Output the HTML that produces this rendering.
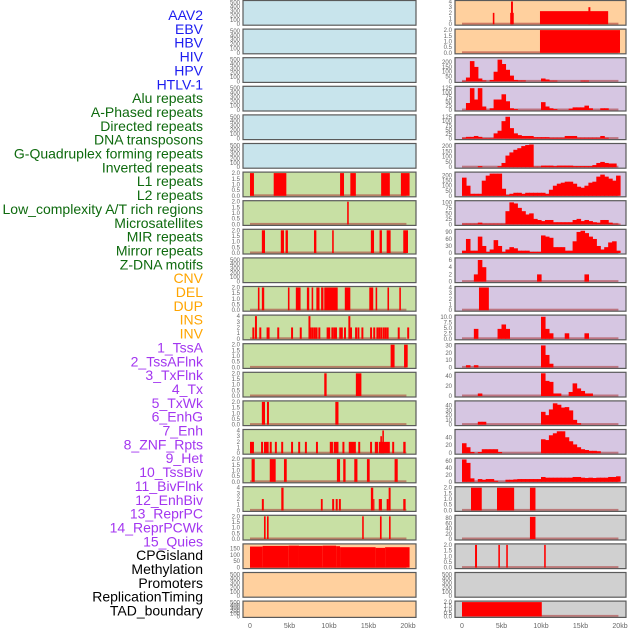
<!DOCTYPE html>
<html><head><meta charset="utf-8"><style>
html,body{margin:0;padding:0;background:#fff;}
svg{display:block;font-family:"Liberation Sans",sans-serif;}
</style></head><body>
<svg id="chart" width="630" height="630" viewBox="0 0 630 630" xmlns="http://www.w3.org/2000/svg">
<g id="labels"></g>
<g id="panels"></g>
<g id="xaxes"></g>
</svg>
<script>
// ---------- labels ----------
const labelNames = ["AAV2","EBV","HBV","HIV","HPV","HTLV-1","Alu repeats","A-Phased repeats","Directed repeats","DNA transposons","G-Quadruplex forming repeats","Inverted repeats","L1 repeats","L2 repeats","Low_complexity A/T rich regions","Microsatellites","MIR repeats","Mirror repeats","Z-DNA motifs","CNV","DEL","DUP","INS","INV","1_TssA","2_TssAFlnk","3_TxFlnk","4_Tx","5_TxWk","6_EnhG","7_Enh","8_ZNF_Rpts","9_Het","10_TssBiv","11_BivFlnk","12_EnhBiv","13_ReprPC","14_ReprPCWk","15_Quies","CPGisland","Methylation","Promoters","ReplicationTiming","TAD_boundary"];
const labelGroups = ["v","v","v","v","v","v","r","r","r","r","r","r","r","r","r","r","r","r","r","s","s","s","s","s","c","c","c","c","c","c","c","c","c","c","c","c","c","c","c","o","o","o","o","o"];

// ---------- x axis ----------
const xTicks = [0,5,10,15,20];
const xTickLabels = ["0","5kb","10kb","15kb","20kb"];

// ---------- left column data (kb start, kb end, value) ----------
const L6 = [[0,0.5,2],[3.0,4.6,2],[11.4,11.9,2],[12.7,13.4,2],[16.6,17.7,2],[19.1,20.2,2]];
const L7 = [[12.3,12.5,2]];
const L8 = [[1.5,1.9,2],[3.9,4.3,2],[4.5,4.8,2],[8.1,8.4,2],[10.4,10.6,2],[15.3,15.7,2],[16.4,16.7,2],[17.3,17.8,2],[19.4,20,2]];
const L10 = [[1.0,1.2,2],[1.5,1.8,2],[4.8,5.0,2],[5.8,6.4,2],[7.2,7.5,2],[7.8,8.0,2],[8.4,8.8,2],[9.0,9.3,2],[9.4,11.1,2],[12.0,12.7,2],[15.1,15.6,2],[15.9,16.1,2],[17.4,17.6,2],[18.9,19.1,2]];
const L11pos = [0.3,0.63,1.18,2.1,2.23,3.45,5.2,6.3,7.4,7.55,7.8,8.06,8.3,8.65,9.7,9.9,10.3,10.55,10.76,11.3,11.5,11.9,12.45,12.66,13.3,13.6,14.1,15.2,15.6,16.0,16.24,16.5,16.8,17.05,17.3,18.7,19.9];
const L11val = [2,4,2,2,2,2,2,2,4,2,2,2,2,2,2,2,2,2,2,2,2,2,4,2,2,2,2,2,2,2,2,2,2,2,2,2,2];
const L12 = [[17.8,18.3,2],[19.5,19.96,2]];
const L13 = [[9.4,9.7,2],[13.4,14.1,2]];
const L14 = [[1.5,1.9,2],[2.15,2.4,2],[10.8,11.2,2]];
const L15 = [[0,0.5,2],[1.4,1.65,2],[1.77,2.36,2],[2.5,2.75,2],[3.15,3.4,2],[3.95,4.2,2],[5.2,5.45,2],[6.1,6.35,2],[6.95,7.2,2],[8.35,8.6,2],[10.1,10.5,2],[10.6,11.2,2],[11.7,11.95,2],[12.5,13.4,2],[13.7,13.95,2],[15.2,15.45,2],[15.8,16.2,2],[16.3,17.7,2],[16.5,16.7,3],[16.75,16.95,4],[18,18.25,2],[19.4,19.7,2]];
const L16 = [[0.2,0.6,2],[2.5,3.25,2],[4.3,4.65,2],[11.0,11.4,2],[11.8,12.1,2],[13.2,13.6,2],[14.8,15.15,2],[18.3,18.7,2]];
const L17 = [[1.5,1.75,2],[3.96,4.25,4],[8.97,9.2,2],[10.4,10.65,2],[10.85,11.1,2],[11.25,11.5,2],[15.3,15.6,4],[15.6,15.75,2],[16.3,16.7,2],[17.3,17.55,2],[17.55,17.8,4],[19.4,19.7,2]];
const L18 = [[1.77,1.98,2],[2.15,2.36,2],[14.2,14.4,2],[16.45,16.66,2],[17.6,17.8,2]];
const L19 = [[0,1.6,165],[1.6,4.9,170],[4.9,6.2,172],[6.2,9.2,170],[9.2,10.9,172],[10.9,11.4,168],[11.4,15.9,160],[15.9,17.1,155],[17.1,20.2,160]];

// ---------- right column data ----------
const R0 = [[3.9,4.1,2],[6.1,6.55,2],[6.2,6.45,4],[9.87,18.5,2.3],[16.0,16.25,3]];
const R1 = [[9.87,20,2]];
// 0.5 kb bins
const R2 = [5,40,210,150,30,10,0,15,100,225,180,120,60,15,10,10,0,0,0,0,30,20,8,8,0,0,0,0,0,0,8,8,0,0,0,0,0,0,0,0];
const R3 = [0,40,125,60,125,20,0,10,60,60,90,50,10,5,0,0,0,0,0,0,45,20,10,5,0,0,0,8,15,15,15,25,10,0,0,10,10,0,0,0];
const R4 = [5,10,10,15,10,3,3,3,30,45,100,125,60,30,20,15,15,15,8,8,8,8,5,5,5,5,15,15,15,5,5,5,5,5,5,15,5,0,0,0];
const R5 = [0,0,0,0,10,0,0,0,0,10,40,110,140,165,180,200,210,215,5,5,15,15,15,10,15,15,15,15,10,10,10,10,10,20,40,50,40,35,35,0];
const R6 = [180,100,20,20,20,150,200,220,220,220,70,10,20,30,30,20,30,30,30,30,30,20,60,100,120,130,140,140,120,90,80,100,130,140,190,210,190,170,150,200];
const R7 = [3,3,3,3,8,3,3,3,3,3,3,60,100,95,75,60,45,50,25,20,15,20,20,10,10,10,10,10,20,25,15,20,15,10,8,20,20,8,3,3];
const R8 = [10,60,10,10,70,30,5,15,55,30,5,15,25,20,10,10,10,5,5,5,75,70,65,25,25,25,10,10,50,90,95,85,70,60,30,15,25,45,50,10];
const R9 = [0,0,0,2,6,4,0,0,0,0,0,0,0,0,0,0,0,0,0,2,0,0,0,0,0,0,0,0,0,0,0,2,0,0,0,0,0,0,0,0];
const R10 = [[2.15,3.4,4]];
const R11 = [0,0,0,4.5,0,0,0,0,0,4.5,6.5,4.5,0,0,0,0,0,0,0,0,10,4.5,2.5,0,0,0,2.5,0,0,0,0,2.5,0,0,0,0,0,0,0,0];
const R12 = [0,3,0,3,0,0,0,0,0,0,0,0,0,0,0,0,0,0,0,0,30,17,5,0,0,0,0,0,0,0,0,0,0,0,0,0,0,0,0,0];
const R13 = [0,0,0,0,5,0,0,0,0,0,0,0,0,0,0,0,0,0,0,0,50,30,28,5,5,0,0,8,25,15,10,5,5,0,0,0,0,0,0,0];
const R14 = [0,0,0,0,6,6,0,0,0,0,0,0,0,0,0,0,0,0,0,0,27,20,32,45,42,36,37,30,10,3,0,0,0,0,0,0,0,0,0,0];
const R15 = [25,15,3,0,3,10,10,10,10,3,0,0,0,0,0,0,0,0,0,0,35,33,45,50,55,55,40,30,22,15,10,8,6,6,5,0,0,0,0,0];
const R16 = [65,55,10,0,8,6,8,8,3,0,0,6,6,7,8,8,8,8,8,8,14,12,12,12,12,12,12,12,14,14,12,11,12,11,12,12,12,14,14,16];
const R17 = [[1.14,2.5,2],[4.43,6.6,2],[8.6,9.3,2]];
const R18 = [[8.6,9.3,85]];
const R19 = [[1.65,1.9,2],[4.6,4.8,2],[5.6,5.8,2],[10.4,10.6,2]];
const R21 = [[0,10.1,2]];

// ---------- tick sets ----------
const T500 = [0,100,200,300,400,500];
const T2 = [0,0.5,1,1.5,2];
const T4 = [0,1,2,3,4];
</script>
<script>
const NS = "http://www.w3.org/2000/svg";
const gLab = document.getElementById("labels");
const gPan = document.getElementById("panels");
const gX = document.getElementById("xaxes");
function mk(tag, attrs, parent){const e=document.createElementNS(NS,tag);for(const k in attrs)e.setAttribute(k,attrs[k]);parent.appendChild(e);return e;}

const groupColor = {v:"#1c1cf0", r:"#0e6a0e", s:"#ffa500", c:"#a336f0", o:"#000000"};
labelNames.forEach((n,i)=>{
  const t = mk("text",{x:203,y:20+i*13.85,"text-anchor":"end","font-size":"14",fill:groupColor[labelGroups[i]]},gLab);
  
  
  t.textContent = n;
});

const BLUE="#c8e4ec", GREEN="#c8e0a4", PEACH="#ffd09e", LAV="#d6c6e2", GRAY="#d0d0d0";
const cols = [
  {fx:243, fw:173, x0:250},
  {fx:455, fw:171, x0:462}
];
const KBPX = 7.9;
function fmt(t,dec){return dec?t.toFixed(1):String(t);}
const left = [
  {bg:BLUE,t:T500,m:520},{bg:BLUE,t:T500,m:520},{bg:BLUE,t:T500,m:520},{bg:BLUE,t:T500,m:520},{bg:BLUE,t:T500,m:520},{bg:BLUE,t:T500,m:520},
  {bg:GREEN,t:T2,m:2,d:1,seg:L6},{bg:GREEN,t:T2,m:2,d:1,seg:L7},{bg:GREEN,t:T2,m:2,d:1,seg:L8},{bg:GREEN,t:T500,m:520},
  {bg:GREEN,t:T2,m:2,d:1,seg:L10},{bg:GREEN,t:T4,m:4,pos:L11pos,val:L11val},{bg:GREEN,t:T2,m:2,d:1,seg:L12},{bg:GREEN,t:T2,m:2,d:1,seg:L13},
  {bg:GREEN,t:T2,m:2,d:1,seg:L14},{bg:GREEN,t:T4,m:4,seg:L15},{bg:GREEN,t:T2,m:2,d:1,seg:L16},{bg:GREEN,t:T4,m:4,seg:L17},{bg:GREEN,t:T2,m:2,d:1,seg:L18},
  {bg:PEACH,t:[0,50,100,150],m:178,seg:L19},{bg:PEACH,t:T500,m:520},{bg:PEACH,t:T500,m:520}
];
const right = [
  {bg:PEACH,t:T4,m:4,seg:R0},{bg:PEACH,t:T2,m:2,d:1,seg:R1},
  {bg:LAV,t:[0,50,100,150,200],m:235,bins:R2},{bg:LAV,t:[0,25,50,75,100,125],m:130,bins:R3},{bg:LAV,t:[0,25,50,75,100,125],m:130,bins:R4},
  {bg:LAV,t:[0,50,100,150,200],m:215,bins:R5},{bg:LAV,t:[0,50,100,150,200],m:225,bins:R6},{bg:LAV,t:[0,25,50,75,100],m:103,bins:R7},
  {bg:LAV,t:[0,30,60,90],m:97,bins:R8},{bg:LAV,t:[0,2,4,6],m:6.3,bins:R9},{bg:LAV,t:T4,m:4,seg:R10},
  {bg:LAV,t:[0,2.5,5,7.5,10],m:10.3,d:1,bins:R11},{bg:LAV,t:[0,10,20,30],m:31,bins:R12},{bg:LAV,t:[0,20,40],m:45,bins:R13},
  {bg:LAV,t:[0,10,20,30,40],m:48,bins:R14},{bg:LAV,t:[0,20,40],m:57,bins:R15},{bg:LAV,t:[0,20,40,60],m:66,bins:R16},
  {bg:GRAY,t:T2,m:2,d:1,seg:R17},{bg:GRAY,t:[0,20,40,60,80],m:87,seg:R18},{bg:GRAY,t:T2,m:2,d:1,seg:R19},
  {bg:GRAY,t:T500,m:520},{bg:GRAY,t:T2,m:2,d:1,seg:R21}
];

function drawPanel(p, ci, ri){
  const c = cols[ci];
  const top = 0.5 + ri*28.6;
  const h = ri===21 ? 16.3 : 24.7;
  const g = mk("g",{},gPan);
  
  
  mk("rect",{x:c.fx,y:top,width:c.fw,height:h,fill:p.bg},g);
  const y0 = top+h-1, yTop = top+1;
  const ys = v => y0 - Math.min(v,p.m)/p.m*(y0-yTop);
  const xs = kb => c.x0 + kb*KBPX;
  const xmax = c.fx+c.fw-0.5;
  const hasData = p.seg||p.bins||p.pos;
  if(hasData){
    mk("rect",{x:xs(0),y:y0-1.5,width:19.8*KBPX,height:2,fill:"rgba(170,50,50,0.55)"},g);
  }
  function bar(a,b,v,pad){
    const x1=Math.max(xs(a),c.fx+0.5), x2=Math.min(xs(b)+pad,xmax);
    if(v<=0||x2<=x1) return;
    const r = mk("rect",{x:x1,y:ys(v),width:Math.max(x2-x1,1),height:y0-ys(v),fill:"#ff0000"},g);
    
    
  }
  if(p.seg) p.seg.forEach(s=>bar(s[0],s[1],s[2],0));
  if(p.bins) p.bins.forEach((v,k)=>bar(k*0.5,k*0.5+0.5,v,0.6));
  if(p.pos) p.pos.forEach((x,k)=>bar(x,x+0.25,p.val[k],0));
  mk("rect",{x:c.fx,y:top,width:c.fw,height:h,fill:"none",stroke:"#5a5a5a","stroke-width":1.2},g);
  p.t.forEach(t=>{
    const tx = mk("text",{x:c.fx-3,y:ys(t)+2,"text-anchor":"end","font-size":"6",fill:"#666"},g);
    
    
    tx.textContent = fmt(t,p.d);
  });
}
left.forEach((p,i)=>drawPanel(p,0,i));
right.forEach((p,i)=>drawPanel(p,1,i));

cols.forEach((c,ci)=>{
  xTicks.forEach((t,k)=>{
    const tx = mk("text",{x:c.x0+t*KBPX,y:628,"text-anchor":"middle","font-size":"7",fill:"#666"},gX);
    
    
    tx.textContent = xTickLabels[k];
  });
});
</script>
</body></html>
